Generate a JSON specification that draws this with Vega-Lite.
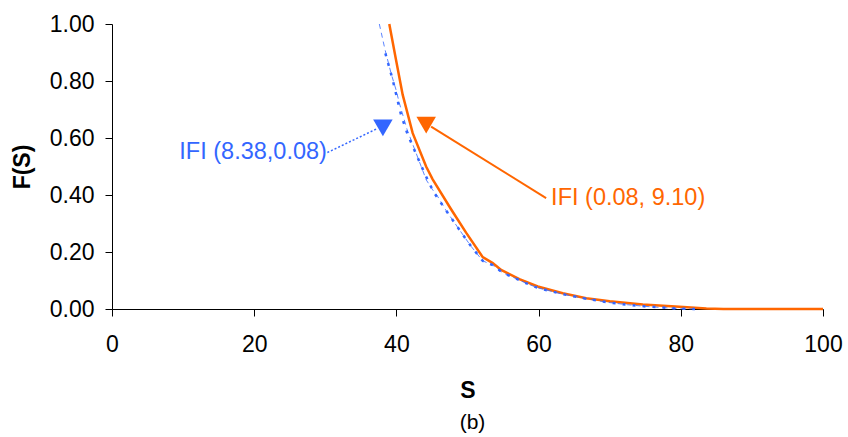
{
  "$schema": "https://vega.github.io/schema/vega-lite/v6.json",
  "width": 711,
  "height": 285,
  "autosize": {"type": "none"},
  "padding": {"left": 112, "top": 24, "right": 25, "bottom": 128},
  "background": "white",
  "config": {"view": {"stroke": null}, "font": "Liberation Sans"},
  "title": {"text": "(b)", "orient": "bottom", "anchor": "middle", "fontSize": 21, "fontWeight": "normal", "font": "Liberation Sans", "color": "black", "offset": 10, "dx": 5},
  "datasets": {
    "orange": [
      {"S": 39.0, "F": 1.0}, {"S": 39.95, "F": 0.874}, {"S": 40.88, "F": 0.752}, {"S": 42.29, "F": 0.617},
      {"S": 44.18, "F": 0.5}, {"S": 45.1, "F": 0.455}, {"S": 47.69, "F": 0.35}, {"S": 49.8, "F": 0.268},
      {"S": 52.14, "F": 0.182}, {"S": 53.55, "F": 0.161},
      {"S": 54.73, "F": 0.137}, {"S": 57.3, "F": 0.105}, {"S": 59.88, "F": 0.079}, {"S": 63.4, "F": 0.055},
      {"S": 66.7, "F": 0.038}, {"S": 70.0, "F": 0.027}, {"S": 74.65, "F": 0.016}, {"S": 79.8, "F": 0.008},
      {"S": 83.6, "F": 0.002}, {"S": 86.0, "F": 0.0}, {"S": 100.0, "F": 0.0}
    ],
    "blueDash": [
      {"S": 37.6, "F": 1.0}, {"S": 38.4, "F": 0.91}, {"S": 39.25, "F": 0.827}, {"S": 39.95, "F": 0.769},
      {"S": 40.42, "F": 0.722}, {"S": 41.5, "F": 0.63}, {"S": 42.77, "F": 0.547}, {"S": 44.2, "F": 0.453},
      {"S": 45.1, "F": 0.418}, {"S": 45.8, "F": 0.395}, {"S": 47.0, "F": 0.345}, {"S": 48.86, "F": 0.278},
      {"S": 50.5, "F": 0.22}, {"S": 52.14, "F": 0.169}, {"S": 53.55, "F": 0.154}, {"S": 54.95, "F": 0.127},
      {"S": 56.6, "F": 0.109}, {"S": 58.2, "F": 0.091}, {"S": 59.88, "F": 0.074}, {"S": 61.5, "F": 0.064},
      {"S": 63.2, "F": 0.053}, {"S": 66.5, "F": 0.037}, {"S": 69.8, "F": 0.023}, {"S": 72.5, "F": 0.015},
      {"S": 75.1, "F": 0.009}, {"S": 77.5, "F": 0.005}, {"S": 79.8, "F": 0.001}, {"S": 82.0, "F": 0.0}
    ],
    "blueDot": [
      {"S": 38.45, "F": 0.897}, {"S": 39.48, "F": 0.804}, {"S": 40.66, "F": 0.681}, {"S": 41.6, "F": 0.611},
      {"S": 43.94, "F": 0.477}, {"S": 45.2, "F": 0.412}, {"S": 47.0, "F": 0.345}, {"S": 48.86, "F": 0.278},
      {"S": 50.5, "F": 0.22}, {"S": 52.14, "F": 0.169}, {"S": 53.55, "F": 0.154}, {"S": 54.95, "F": 0.127},
      {"S": 56.6, "F": 0.109}, {"S": 58.2, "F": 0.091}, {"S": 59.88, "F": 0.074}, {"S": 61.5, "F": 0.064},
      {"S": 63.2, "F": 0.053}, {"S": 66.5, "F": 0.037}, {"S": 69.8, "F": 0.023}, {"S": 72.5, "F": 0.015},
      {"S": 75.1, "F": 0.009}, {"S": 77.5, "F": 0.005}, {"S": 79.8, "F": 0.001}, {"S": 82.0, "F": 0.0}
    ],
    "blueLeader": [{"x1": 30.29, "y1": 0.549, "x2": 37.14, "y2": 0.631}],
    "orangeLeader": [{"x1": 61.06, "y1": 0.389, "x2": 44.88, "y2": 0.64}],
    "blueMark": [{"S": 38.1, "F": 0.6355, "label": "IFI (8.38,0.08)", "tx": 9.47, "ty": 0.526}],
    "orangeMark": [{"S": 44.19, "F": 0.645, "label": "IFI (0.08, 9.10)", "tx": 61.76, "ty": 0.3656}]
  },
  "layer": [
    {
      "data": {"name": "orange"},
      "mark": {"type": "line", "color": "#ff6600", "strokeWidth": 2.5},
      "encoding": {
        "x": {
          "field": "S", "type": "quantitative",
          "scale": {"domain": [0, 100], "nice": false, "zero": false},
          "axis": {
            "values": [0, 20, 40, 60, 80, 100], "grid": false, "domainColor": "black", "tickColor": "black",
            "tickSize": 7, "labelFontSize": 23, "labelColor": "black", "labelFont": "Liberation Sans",
            "labelPadding": 17, "labelFlush": false, "labelOverlap": false, "title": "S", "titleFontSize": 23,
            "titleFont": "Liberation Sans", "titleFontWeight": "bold", "titleColor": "black", "titleY": 81,
            "titleBaseline": "middle"
          }
        },
        "y": {
          "field": "F", "type": "quantitative",
          "scale": {"domain": [0, 1], "nice": false, "zero": false},
          "axis": {
            "values": [0, 0.2, 0.4, 0.6, 0.8, 1.0], "format": ".2f", "grid": false, "domainColor": "black",
            "tickColor": "black", "tickSize": 7, "labelFontSize": 23, "labelColor": "black",
            "labelFont": "Liberation Sans", "labelPadding": 11, "labelFlush": false, "labelOverlap": false,
            "title": "F(S)", "titleFontSize": 23, "titleFont": "Liberation Sans", "titleFontWeight": "bold",
            "titleColor": "black", "titleX": -90, "titleY": 142.5, "titleAngle": -90, "titleAlign": "center",
            "titleBaseline": "middle"
          }
        }
      }
    },
    {
      "data": {"name": "blueDash"},
      "mark": {"type": "line", "color": "#3366ff", "strokeWidth": 1, "strokeDash": [5, 4], "opacity": 0.8},
      "encoding": {"x": {"field": "S", "type": "quantitative"}, "y": {"field": "F", "type": "quantitative"}}
    },
    {
      "data": {"name": "blueDot"},
      "mark": {"type": "line", "color": "#3366ff", "strokeWidth": 2.5, "strokeDash": [3, 7]},
      "encoding": {"x": {"field": "S", "type": "quantitative"}, "y": {"field": "F", "type": "quantitative"}}
    },
    {
      "data": {"name": "blueLeader"},
      "mark": {"type": "rule", "color": "#3366ff", "strokeWidth": 1.5, "strokeDash": [2, 2]},
      "encoding": {
        "x": {"field": "x1", "type": "quantitative"}, "y": {"field": "y1", "type": "quantitative"},
        "x2": {"field": "x2"}, "y2": {"field": "y2"}
      }
    },
    {
      "data": {"name": "orangeLeader"},
      "mark": {"type": "rule", "color": "#ff6600", "strokeWidth": 2},
      "encoding": {
        "x": {"field": "x1", "type": "quantitative"}, "y": {"field": "y1", "type": "quantitative"},
        "x2": {"field": "x2"}, "y2": {"field": "y2"}
      }
    },
    {
      "data": {"name": "blueMark"},
      "mark": {"type": "point", "shape": "triangle-down", "size": 380, "filled": true, "color": "#3366ff", "opacity": 1},
      "encoding": {"x": {"field": "S", "type": "quantitative"}, "y": {"field": "F", "type": "quantitative"}}
    },
    {
      "data": {"name": "orangeMark"},
      "mark": {"type": "point", "shape": "triangle-down", "size": 380, "filled": true, "color": "#ff6600", "opacity": 1},
      "encoding": {"x": {"field": "S", "type": "quantitative"}, "y": {"field": "F", "type": "quantitative"}}
    },
    {
      "data": {"name": "blueMark"},
      "mark": {"type": "text", "align": "left", "baseline": "alphabetic", "fontSize": 23.5, "font": "Liberation Sans", "color": "#3366ff"},
      "encoding": {"x": {"field": "tx", "type": "quantitative"}, "y": {"field": "ty", "type": "quantitative"}, "text": {"field": "label"}}
    },
    {
      "data": {"name": "orangeMark"},
      "mark": {"type": "text", "align": "left", "baseline": "alphabetic", "fontSize": 23.5, "font": "Liberation Sans", "color": "#ff6600"},
      "encoding": {"x": {"field": "tx", "type": "quantitative"}, "y": {"field": "ty", "type": "quantitative"}, "text": {"field": "label"}}
    }
  ]
}
